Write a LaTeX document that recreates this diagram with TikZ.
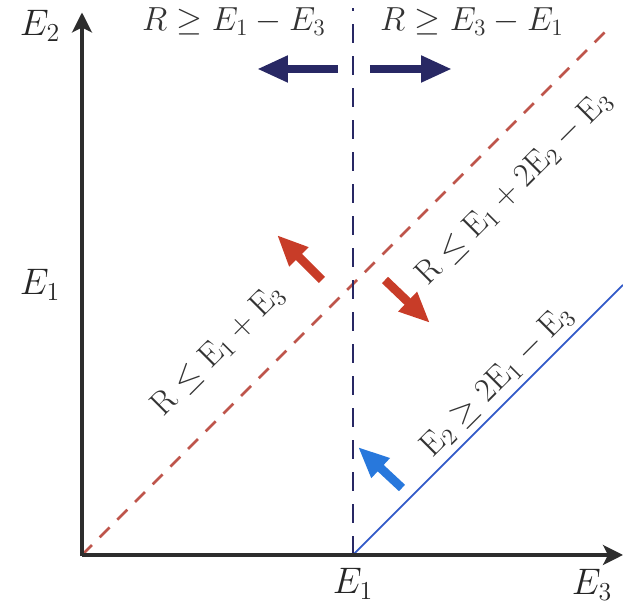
\documentclass[tikz,border=0pt]{standalone}
\usepackage{fix-cm}
\usepackage{amsmath, amssymb}
\usepackage{tikz}
\usetikzlibrary{arrows.meta,positioning,calc}
\usepackage{xcolor}

\definecolor{navy}{RGB}{40,40,100}
\definecolor{arrowred}{RGB}{200,60,40}
\definecolor{dashred}{RGB}{190,85,75}
\definecolor{lineblue}{RGB}{50,90,200}
\definecolor{arrowblue}{RGB}{40,120,220}
\definecolor{axisgray}{RGB}{45,45,45}

\tikzset{
    axis/.style={line width=1.8pt, axisgray, -{Stealth[length=0.4cm,width=0.4cm,inset=0.1cm]}},
    bigtxt/.style={font=\fontsize{21}{24}\selectfont, text=black!85},
    midtxt/.style={font=\fontsize{19}{22}\selectfont, text=black!80},
    fatarrow/.style={line width=5pt, -{Triangle[length=0.62cm,width=0.5cm]}},
}

\begin{document}
\begin{tikzpicture}
    \useasboundingbox (-1.64,-1.06) rectangle (10.82,11.1);
    % Pontos de referencia
    \coordinate (O) at (0,0);
    \coordinate (Xe) at (10.82,0);
    \coordinate (Ye) at (0,10.85);
    \coordinate (A) at (5.42,0);
    \coordinate (At) at (5.42,10.94);
    \coordinate (Rt) at (10.55,10.55);
    \coordinate (Bt) at (10.82,5.4);
    % Retas das desigualdades
    \draw[dashred, line width=1.5pt, dash pattern=on 0.28cm off 0.22cm] (O) -- (Rt);
    \draw[lineblue, line width=1pt] (A) -- (Bt);
    \draw[navy, line width=1.5pt, dash pattern=on 0.38cm off 0.26cm] (A) -- (At);
    % Eixos
    \draw[axis] (O) -- (Xe);
    \draw[axis] ([yshift=-0.03cm]O) -- (Ye);
    % Rotulos dos eixos
    \node[bigtxt] (e2) at (-0.84,10.58) {$E_2$};
    \node[bigtxt] (e1y) at (-0.84,5.4) {$E_1$};
    \node[bigtxt] (e1x) at (5.42,-0.58) {$E_1$};
    \node[bigtxt] (e3) at (10.2,-0.6) {$E_3$};
    % Textos superiores
    \node[midtxt] (tl) at (3.04,10.66) {$R\geq E_1-E_3$};
    \node[midtxt] (tr) at (7.8,10.66) {$R\geq E_3-E_1$};
    % Textos inclinados
    \node[midtxt, rotate=45] (la) at (2.72,4.1) {$\mathrm{R}\leq\mathrm{E}_1+\mathrm{E}_3$};
    \node[midtxt, rotate=45] (lb) at (8.64,7.34) {$\mathrm{R}\leq\mathrm{E}_1+2\mathrm{E}_2-\mathrm{E}_3$};
    \node[midtxt, rotate=45] (lc) at (8.3,3.48) {$\mathrm{E}_2\geq 2\mathrm{E}_1-\mathrm{E}_3$};
    % Setas grossas
    \coordinate (n1) at (5.12,9.72); \coordinate (n2) at (3.5,9.72);
    \coordinate (n3) at (5.76,9.72); \coordinate (n4) at (7.4,9.72);
    \draw[fatarrow, navy] (n1) -- (n2);
    \draw[fatarrow, navy] (n3) -- (n4);
    \coordinate (r1) at (4.8,5.5); \coordinate (r2) at (3.9,6.4);
    \coordinate (r3) at (6.06,5.5); \coordinate (r4) at (6.96,4.64);
    \draw[fatarrow, arrowred] (r1) -- (r2);
    \draw[fatarrow, arrowred] (r3) -- (r4);
    \coordinate (b1) at (6.4,1.34); \coordinate (b2) at (5.52,2.16);
    \draw[fatarrow, arrowblue] (b1) -- (b2);
\end{tikzpicture}
\end{document}
